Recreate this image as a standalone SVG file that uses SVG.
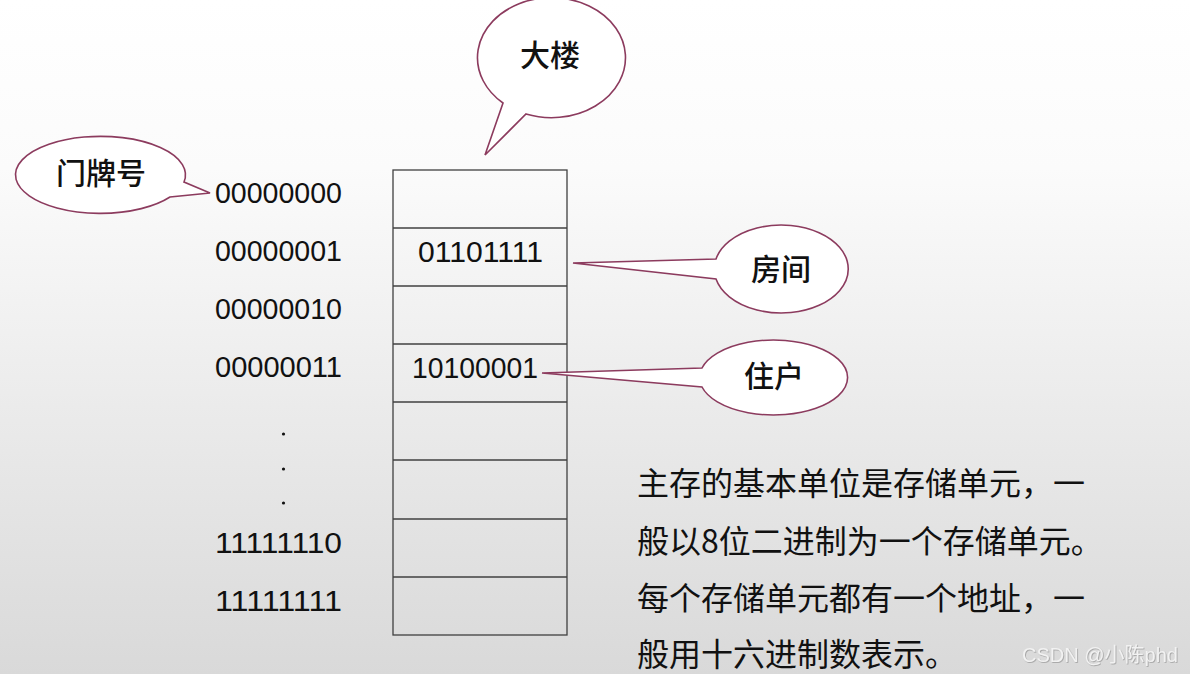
<svg xmlns="http://www.w3.org/2000/svg" width="1190" height="674" viewBox="0 0 1190 674">
<defs>
<linearGradient id="bg" x1="0" y1="0" x2="0" y2="1">
<stop offset="0" stop-color="#ffffff"/>
<stop offset="0.25" stop-color="#fbfbfb"/>
<stop offset="1" stop-color="#d9d9d9"/>
</linearGradient>
<filter id="emb" x="-10%" y="-30%" width="120%" height="160%">
<feDropShadow dx="0.8" dy="0.8" stdDeviation="0.4" flood-color="#9a9a9a" flood-opacity="0.9"/>
</filter>
</defs>
<style>
.bub{fill:#ffffff;stroke:#8c3b5e;stroke-width:1.6;stroke-linejoin:miter}
.lbl{font-family:"Noto Sans CJK SC","Noto Sans",sans-serif;font-size:30px;font-weight:500;fill:#111}
.addr{font-family:"Liberation Sans","Noto Sans",sans-serif;font-size:29px;fill:#111}
.cell{fill:none;stroke:#404040;stroke-width:1.3}
.para{font-family:"Noto Sans CJK SC","Noto Sans",sans-serif;font-size:32px;fill:#111}
.wm{font-family:"Liberation Sans","Noto Sans CJK SC",sans-serif;font-size:20px;fill:#f2f2f2}
</style>
<rect x="0" y="0" width="1190" height="674" fill="url(#bg)"/>

<g id="memory">
<rect class="cell" x="393" y="170" width="174" height="465"/>
<line class="cell" x1="393" y1="228" x2="567" y2="228"/>
<line class="cell" x1="393" y1="286" x2="567" y2="286"/>
<line class="cell" x1="393" y1="344" x2="567" y2="344"/>
<line class="cell" x1="393" y1="402" x2="567" y2="402"/>
<line class="cell" x1="393" y1="460" x2="567" y2="460"/>
<line class="cell" x1="393" y1="519" x2="567" y2="519"/>
<line class="cell" x1="393" y1="577" x2="567" y2="577"/>
<text class="addr" x="418" y="262" textLength="125" lengthAdjust="spacingAndGlyphs">01101111</text>
<text class="addr" x="412" y="378" textLength="126" lengthAdjust="spacingAndGlyphs">10100001</text>
</g>

<g id="addresses">
<text class="addr" x="215" y="203" textLength="127" lengthAdjust="spacingAndGlyphs">00000000</text>
<text class="addr" x="215" y="261" textLength="127" lengthAdjust="spacingAndGlyphs">00000001</text>
<text class="addr" x="215" y="319" textLength="127" lengthAdjust="spacingAndGlyphs">00000010</text>
<text class="addr" x="215" y="377" textLength="127" lengthAdjust="spacingAndGlyphs">00000011</text>
<circle cx="283.5" cy="434" r="1.6" fill="#111"/>
<circle cx="283.5" cy="469" r="1.6" fill="#111"/>
<circle cx="283.5" cy="503" r="1.6" fill="#111"/>
<text class="addr" x="215" y="553" textLength="127" lengthAdjust="spacingAndGlyphs">11111110</text>
<text class="addr" x="215" y="611" textLength="127" lengthAdjust="spacingAndGlyphs">11111111</text>
</g>

<g id="callout-building">
<path class="bub" d="M 526,114 A 74 60 0 1 0 503,103 L 485,155 Z"/>
<text class="lbl" x="550" y="66" text-anchor="middle">大楼</text>
</g>

<g id="callout-doorplate">
<path class="bub" d="M 184,182 A 85 38.5 0 1 0 170,197 L 210,193 Z"/>
<text class="lbl" x="101" y="184" text-anchor="middle">门牌号</text>
</g>

<g id="callout-room">
<path class="bub" d="M 716,259 A 67 44 0 1 1 716,279 L 573,263 Z"/>
<text class="lbl" x="781" y="280" text-anchor="middle">房间</text>
</g>

<g id="callout-resident">
<path class="bub" d="M 702,368 A 74 37.5 0 1 1 702,387 L 542,373 Z"/>
<text class="lbl" x="774" y="387" text-anchor="middle">住户</text>
</g>

<g id="description">
<text class="para" x="637" y="495">主存的基本单位是存储单元，一</text>
<text class="para" x="637" y="553">般以8位二进制为一个存储单元。</text>
<text class="para" x="637" y="610">每个存储单元都有一个地址，一</text>
<text class="para" x="637" y="666">般用十六进制数表示。</text>
</g>

<text class="wm" x="1022" y="662" filter="url(#emb)">CSDN @小陈phd</text>
</svg>
